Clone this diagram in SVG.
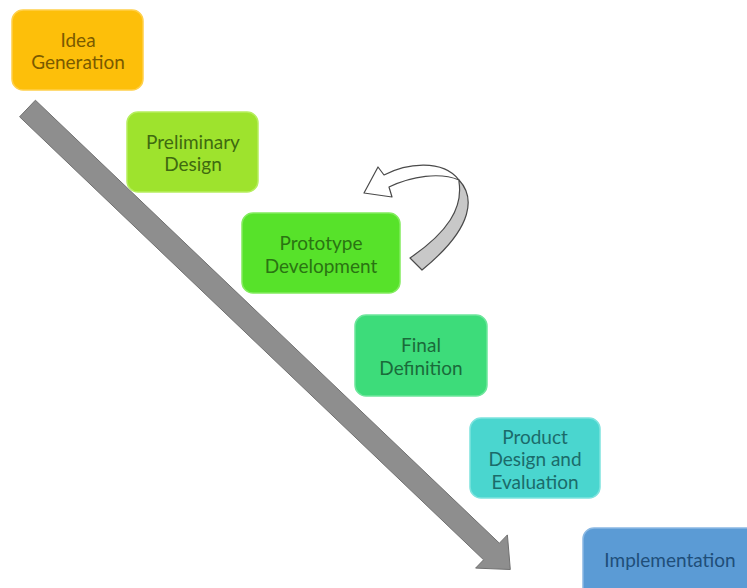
<svg xmlns="http://www.w3.org/2000/svg" width="747" height="588" viewBox="0 0 747 588">
<style>
.box{stroke-width:1.5}
.lbl{font-family:Lato,"Open Sans","Liberation Sans",sans-serif;font-size:19px;text-anchor:middle;dominant-baseline:central}
</style>
<rect width="747" height="588" fill="#ffffff"/>
<g id="connectors">
  <polygon id="main-arrow" points="35.4,100.2 499.4,543.2 507.4,534.9 510.3,569.5 475.6,568.1 483.6,559.8 19.6,116.8" fill="#8E8E8E" stroke="#707070" stroke-width="1"/>
  <g id="loop-arrow" stroke="#4a4a4a" stroke-width="1.2" stroke-linejoin="round">
    <path d="M459,180 C474,196 476,226 422,270 L410,258 C448,232 463,208 459,182 Z" fill="#C8C8C8"/>
    <path d="M364,193 L378,167 L384,175 C405,164 442,158 459,180 C440,172 412,176 389,187 L392,197 Z" fill="#ffffff"/>
  </g>
</g>
<g id="idea-generation">
  <rect class="box" x="12" y="10" width="131" height="80" rx="11" fill="#FDBF0A" stroke="#FFD04A"/>
  <text class="lbl" x="78" y="39" fill="#7A5A00">Idea</text>
  <text class="lbl" x="78" y="61" fill="#7A5A00">Generation</text>
</g>
<g id="preliminary-design">
  <rect class="box" x="127" y="112" width="131" height="80" rx="11" fill="#9EE32D" stroke="#B6EE5E"/>
  <text class="lbl" x="193" y="141" fill="#3F6A10">Preliminary</text>
  <text class="lbl" x="193" y="163" fill="#3F6A10">Design</text>
</g>
<g id="prototype-development">
  <rect class="box" x="242" y="213" width="158" height="80" rx="11" fill="#57E22A" stroke="#82EC5E"/>
  <text class="lbl" x="321" y="242" fill="#2A7412">Prototype</text>
  <text class="lbl" x="321" y="265" fill="#2A7412">Development</text>
</g>
<g id="final-definition">
  <rect class="box" x="355" y="315" width="132" height="81" rx="11" fill="#3DDC7A" stroke="#6EE69C"/>
  <text class="lbl" x="421" y="344" fill="#1A6B3A">Final</text>
  <text class="lbl" x="421" y="367" fill="#1A6B3A">Definition</text>
</g>
<g id="product-design-evaluation">
  <rect class="box" x="470" y="418" width="130" height="80" rx="11" fill="#4AD6CF" stroke="#7DE3DE"/>
  <text class="lbl" x="535" y="436" fill="#1B6B6A">Product</text>
  <text class="lbl" x="535" y="458" fill="#1B6B6A">Design and</text>
  <text class="lbl" x="535" y="481" fill="#1B6B6A">Evaluation</text>
</g>
<g id="implementation">
  <rect class="box" x="583" y="528" width="176" height="80" rx="11" fill="#5B9BD5" stroke="#8AB8E3"/>
  <text class="lbl" x="670" y="559" fill="#1F4E79">Implementation</text>
</g>
</svg>
